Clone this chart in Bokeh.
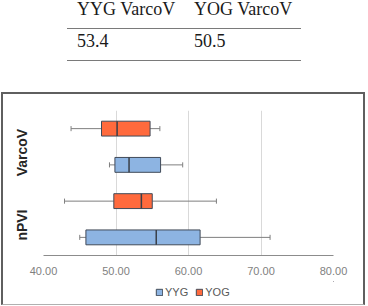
from bokeh.plotting import figure
from bokeh.models import (Div, Legend, LegendItem, FixedTicker, ColumnDataSource,
                          Range1d, NumeralTickFormatter)
from bokeh.layouts import column
from bokeh.embed import file_html
from bokeh.resources import INLINE

# ---- table data ----
table_headers = ["YYG VarcoV", "YOG VarcoV"]
table_values = ["53.4", "50.5"]

# ---- chart data ----
metrics = ["nPVI", "VarcoV"]          # bottom to top
groups = ["YYG", "YOG"]               # within each metric, bottom to top
box_metric = ["nPVI", "nPVI", "VarcoV", "VarcoV"]
box_group = ["YYG", "YOG", "YYG", "YOG"]
whisker_low = [45.0, 42.9, 49.1, 43.8]
q1 = [45.85, 49.7, 49.85, 48.0]
median = [55.55, 53.5, 51.8, 50.15]
q3 = [61.6, 55.0, 56.15, 54.7]
whisker_high = [71.25, 63.85, 59.2, 56.05]
x_ticks = [40, 50, 60, 70, 80]

colors = {"YYG": "#8DB4E2", "YOG": "#FF6A3D"}
box_line = "#404a58"

# ---- table as HTML ----
col_left = [77, 194]
cells = []
for i, h in enumerate(table_headers):
    cells.append(f'<div style="position:absolute;left:{col_left[i]}px;top:0px;line-height:18px;white-space:nowrap">{h}</div>')
for i, v in enumerate(table_values):
    cells.append(f'<div style="position:absolute;left:{col_left[i]}px;top:32px;line-height:18px;white-space:nowrap">{v}</div>')
lines = ('<div style="position:absolute;left:67px;top:28px;width:234px;border-top:1.5px solid #7a7a7a"></div>'
         '<div style="position:absolute;left:67px;top:60px;width:234px;border-top:1.5px solid #7a7a7a"></div>')
html = ('<div style="position:relative;width:368px;height:92px;font-family:\'Liberation Serif\',serif;'
        'font-size:18px;color:#1a1a1a">' + "".join(cells) + lines + '</div>')
div = Div(text=html, width=368, height=92, margin=0)

# ---- chart ----
p = figure(frame_width=290, frame_height=145, output_backend="svg", toolbar_location=None,
           x_range=Range1d(40, 80), y_range=Range1d(0, 4),
           min_border_left=40, min_border_right=30, min_border_top=16, min_border_bottom=26,
           outline_line_color=None, margin=0)

for g in groups:
    idx = [i for i in range(len(box_group)) if box_group[i] == g]
    ys = [metrics.index(box_metric[i]) * 2 + groups.index(g) + 0.5 for i in idx]
    src = ColumnDataSource(dict(
        y=ys,
        ylo=[y - 0.07 for y in ys], yhi=[y + 0.07 for y in ys],
        bl=[y - 0.205 for y in ys], bh=[y + 0.205 for y in ys],
        wl=[whisker_low[i] for i in idx], q1=[q1[i] for i in idx],
        med=[median[i] for i in idx], q3=[q3[i] for i in idx],
        wh=[whisker_high[i] for i in idx]))
    p.segment(x0="wl", y0="y", x1="q1", y1="y", source=src, line_color="#7f7f7f", line_width=1)
    p.segment(x0="q3", y0="y", x1="wh", y1="y", source=src, line_color="#7f7f7f", line_width=1)
    p.segment(x0="wl", y0="ylo", x1="wl", y1="yhi", source=src, line_color="#7f7f7f", line_width=1)
    p.segment(x0="wh", y0="ylo", x1="wh", y1="yhi", source=src, line_color="#7f7f7f", line_width=1)
    p.hbar(y="y", left="q1", right="q3", height=0.41, source=src,
           fill_color=colors[g], line_color=box_line, line_width=1)
    p.segment(x0="med", y0="bl", x1="med", y1="bh", source=src, line_color="#3a3f48", line_width=1.5)

# axes
p.xaxis.ticker = FixedTicker(ticks=x_ticks)
p.xaxis.formatter = NumeralTickFormatter(format="0.00")
p.xaxis.major_tick_line_color = None
p.xaxis.minor_tick_line_color = None
p.xaxis.major_tick_out = 0
p.xaxis.minor_tick_out = 0
p.xaxis.axis_line_color = "#8c8c8c"
p.xaxis.major_label_text_color = "#7f7f7f"
p.xaxis.major_label_text_font = "Liberation Sans"
p.xaxis.major_label_text_font_size = "11px"
p.xaxis.major_label_standoff = 11

label_ticks = [metrics.index(m) * 2 + 1 - 0.16 for m in metrics]
p.yaxis.ticker = FixedTicker(ticks=label_ticks)
p.yaxis.major_label_overrides = {t: m for t, m in zip(label_ticks, metrics)}
p.yaxis.major_label_orientation = "vertical"
p.yaxis.axis_line_color = None
p.yaxis.major_tick_line_color = None
p.yaxis.minor_tick_line_color = None
p.yaxis.major_tick_out = 0
p.yaxis.minor_tick_out = 0
p.yaxis.major_label_text_font = "Liberation Sans"
p.yaxis.major_label_text_font_style = "bold"
p.yaxis.major_label_text_font_size = "14px"
p.yaxis.major_label_text_color = "#262626"
p.yaxis.major_label_standoff = 13

p.xgrid.ticker = FixedTicker(ticks=x_ticks)
p.xgrid.grid_line_color = "#d9d9d9"
p.ygrid.grid_line_color = None

# ---- legend strip (own small figure, no axes) ----
lp = figure(width=360, height=23, output_backend="svg", toolbar_location=None,
            x_axis_type=None, y_axis_type=None, x_range=Range1d(0, 1), y_range=Range1d(0, 1),
            min_border=0, outline_line_color=None, margin=0)
items = []
for g in groups:
    # placeholder bar outside the visible range: only its legend swatch shows
    r = lp.hbar(y=[5], left=[5], right=[6], height=0.5, fill_color=colors[g],
                line_color=box_line, line_width=1)
    items.append(LegendItem(label=g, renderers=[r]))
legend = Legend(items=items, orientation="horizontal", location=(112, 6),
                border_line_color=None, background_fill_alpha=0,
                glyph_width=8, glyph_height=8, label_standoff=2, spacing=7,
                padding=0, margin=0, label_text_font="Liberation Sans",
                label_text_font_size="11px", label_text_color="#595959", label_height=12)
lp.add_layout(legend)

chart = column(p, lp, spacing=0, margin=0)
chart.styles = {"border-top": "2px solid #5f5f5f", "border-left": "2px solid #5f5f5f",
                "border-right": "2px solid #5f5f5f", "border-bottom": "1px solid #b0b0b0",
                "margin-left": "1px"}

layout = column(div, chart, spacing=0)
open("out.html", "w").write(file_html(layout, INLINE))
